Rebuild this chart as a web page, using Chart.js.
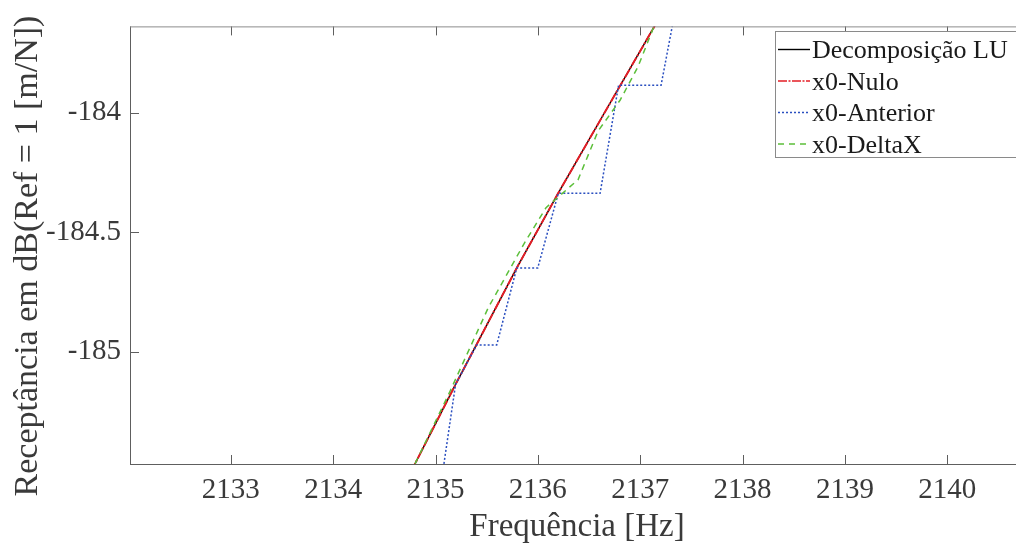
<!doctype html>
<html lang="pt">
<head>
<meta charset="UTF-8">
<title>Receptância - Decomposição LU e estimativas x0</title>
<script src="https://cdn.jsdelivr.net/npm/chart.js@4.4.1/dist/chart.umd.min.js"></script>
<style>
    *, ::before, ::after { margin: 0; padding: 0; box-sizing: border-box; }
    body { background: #fff; overflow: hidden; width: 1016px; height: 544px; }
    .container { width: 1030px; height: 544px; }
</style>
</head>
<body>
<div class="container">
    <canvas id="canvas" width="1030" height="544"></canvas>
</div>
<script>
    // Valores (frequência em Hz, receptância em dB)
    const luFreq = [2134.702, 2134.800, 2135.196, 2135.403, 2135.794, 2136.198, 2136.657, 2137.136, 2137.233];
    const luValues = [-185.551, -185.468, -185.136, -184.968, -184.649, -184.337, -183.996, -183.641, -183.570];

    const nuloFreq = [2134.702, 2134.800, 2135.196, 2135.403, 2135.794, 2136.198, 2136.657, 2137.136, 2137.233];
    const nuloValues = [-185.551, -185.468, -185.136, -184.968, -184.649, -184.337, -183.996, -183.641, -183.570];

    const anteriorFreq = [2135.054, 2135.196, 2135.403, 2135.598, 2135.794, 2135.999, 2136.200, 2136.608, 2136.789, 2137.204, 2137.312, 2137.344];
    const anteriorValues = [-185.551, -185.136, -184.971, -184.971, -184.649, -184.649, -184.337, -184.337, -183.885, -183.885, -183.641, -183.570];

    const deltaFreq = [2134.709, 2134.800, 2135.142, 2135.516, 2135.870, 2136.080, 2136.393, 2136.588, 2136.803, 2136.979, 2137.129, 2137.214];
    const deltaValues = [-185.551, -185.468, -185.165, -184.815, -184.544, -184.397, -184.280, -184.077, -183.948, -183.807, -183.645, -183.574];

    const xTicks = [2133, 2134, 2135, 2136, 2137, 2138, 2139, 2140];
    const yTicks = [-185, -184.5, -184];
    const yTickLabels = ['-185', '-184.5', '-184'];
    const yTitle = 'Receptância em dB(Ref = 1 [m/N])';

    const toPoints = (xs, ys) => xs.map((x, i) => ({ x: x, y: ys[i] }));
    const serif = 'Liberation Serif, Times New Roman, serif';
    const textColor = '#3a3a3a';

    // Eixos estilo MATLAB: caixa com marcas para dentro
    const axisFrame = {
        id: 'axisFrame',
        afterDatasetsDraw(chart) {
            const { ctx, chartArea: a, scales: { x, y } } = chart;
            ctx.save();
            ctx.lineWidth = 1;
            ctx.strokeStyle = '#5e5e5e';
            ctx.beginPath();
            ctx.moveTo(a.left + 0.5, a.top);
            ctx.lineTo(a.left + 0.5, a.bottom + 1);
            ctx.moveTo(a.left, a.bottom + 0.5);
            ctx.lineTo(a.right, a.bottom + 0.5);
            x.ticks.forEach(t => {
                const px = Math.round(x.getPixelForValue(t.value)) + 0.5;
                ctx.moveTo(px, a.bottom);
                ctx.lineTo(px, a.bottom - 9);
                ctx.moveTo(px, a.top);
                ctx.lineTo(px, a.top + 9);
            });
            y.ticks.forEach(t => {
                const py = Math.round(y.getPixelForValue(t.value)) + 0.5;
                ctx.moveTo(a.left, py);
                ctx.lineTo(a.left + 9, py);
            });
            ctx.stroke();
            ctx.strokeStyle = '#8c8c8c';
            ctx.beginPath();
            ctx.moveTo(a.left, a.top + 0.5);
            ctx.lineTo(a.right, a.top + 0.5);
            ctx.stroke();

            // título do eixo y (um pouco abaixo do centro, como no original)
            ctx.translate(28, 256);
            ctx.rotate(-Math.PI / 2);
            ctx.font = '34px ' + serif;
            ctx.fillStyle = textColor;
            ctx.textAlign = 'center';
            ctx.textBaseline = 'middle';
            ctx.fillText(yTitle, 0, 0);
            ctx.restore();
        }
    };

    // Legenda com caixa no canto superior direito
    const boxLegend = {
        id: 'boxLegend',
        afterDraw(chart) {
            const { ctx } = chart;
            const left = 775.5, top = 31.5;
            ctx.save();
            ctx.fillStyle = '#fff';
            ctx.fillRect(left, top, 260, 126);
            ctx.strokeStyle = '#8a8a8a';
            ctx.lineWidth = 1;
            ctx.strokeRect(left, top, 260, 126);
            ctx.font = '26px ' + serif;
            ctx.textBaseline = 'middle';
            chart.data.datasets.forEach((ds, i) => {
                const yy = 49.5 + i * 31.5;
                ctx.strokeStyle = ds.borderColor;
                ctx.lineWidth = Math.min(ds.borderWidth, 1.5);
                ctx.setLineDash(ds.borderDash || []);
                ctx.beginPath();
                ctx.moveTo(778, yy);
                ctx.lineTo(810, yy);
                ctx.stroke();
                ctx.setLineDash([]);
                ctx.fillStyle = '#1a1a1a';
                ctx.fillText(ds.label, 812, yy + 2);
            });
            ctx.restore();
        }
    };

    const ctx = document.getElementById('canvas').getContext('2d');
    new Chart(ctx, {
        type: 'scatter',
        data: {
            datasets: [
                {
                    label: 'Decomposição LU',
                    data: toPoints(luFreq, luValues),
                    borderColor: '#000000',
                    borderWidth: 1.4,
                    order: 4
                },
                {
                    label: 'x0-Nulo',
                    data: toPoints(nuloFreq, nuloValues),
                    borderColor: '#e41e26',
                    borderWidth: 2,
                    borderDash: [9, 1.5, 2, 1.5],
                    order: 3
                },
                {
                    label: 'x0-Anterior',
                    data: toPoints(anteriorFreq, anteriorValues),
                    borderColor: '#2a4fc0',
                    borderWidth: 1.5,
                    borderDash: [2, 2],
                    order: 2
                },
                {
                    label: 'x0-DeltaX',
                    data: toPoints(deltaFreq, deltaValues),
                    borderColor: '#5cbf3a',
                    borderWidth: 1.5,
                    borderDash: [6, 5],
                    order: 1
                }
            ].map(ds => Object.assign(ds, { showLine: true, pointRadius: 0, fill: false, tension: 0, clip: 0 }))
        },
        options: {
            responsive: false,
            animation: false,
            events: [],
            layout: { padding: { top: 23, right: 6, left: 0, bottom: 0 } },
            plugins: { legend: { display: false }, tooltip: { enabled: false } },
            scales: {
                x: {
                    type: 'linear',
                    min: 2132.015,
                    max: 2140.75,
                    afterFit: s => { s.height = 80; },
                    afterBuildTicks: s => { s.ticks = xTicks.map(v => ({ value: v })); },
                    grid: { display: false, drawTicks: false },
                    border: { display: false },
                    ticks: {
                        padding: 9,
                        color: textColor,
                        font: { family: serif, size: 29 },
                        maxRotation: 0,
                        callback: v => String(v)
                    },
                    title: {
                        display: true,
                        text: 'Frequência [Hz]',
                        color: textColor,
                        font: { family: serif, size: 33, lineHeight: 1 },
                        padding: { top: 0, bottom: 0 }
                    }
                },
                y: {
                    type: 'linear',
                    min: -185.469,
                    max: -183.639,
                    afterFit: s => { s.width = 130; },
                    afterBuildTicks: s => { s.ticks = yTicks.map(v => ({ value: v })); },
                    grid: { display: false, drawTicks: false },
                    border: { display: false },
                    ticks: {
                        padding: 9,
                        color: textColor,
                        font: { family: serif, size: 29 },
                        callback: v => yTickLabels[yTicks.indexOf(v)]
                    }
                }
            }
        },
        plugins: [axisFrame, boxLegend]
    });
</script>
</body>
</html>
